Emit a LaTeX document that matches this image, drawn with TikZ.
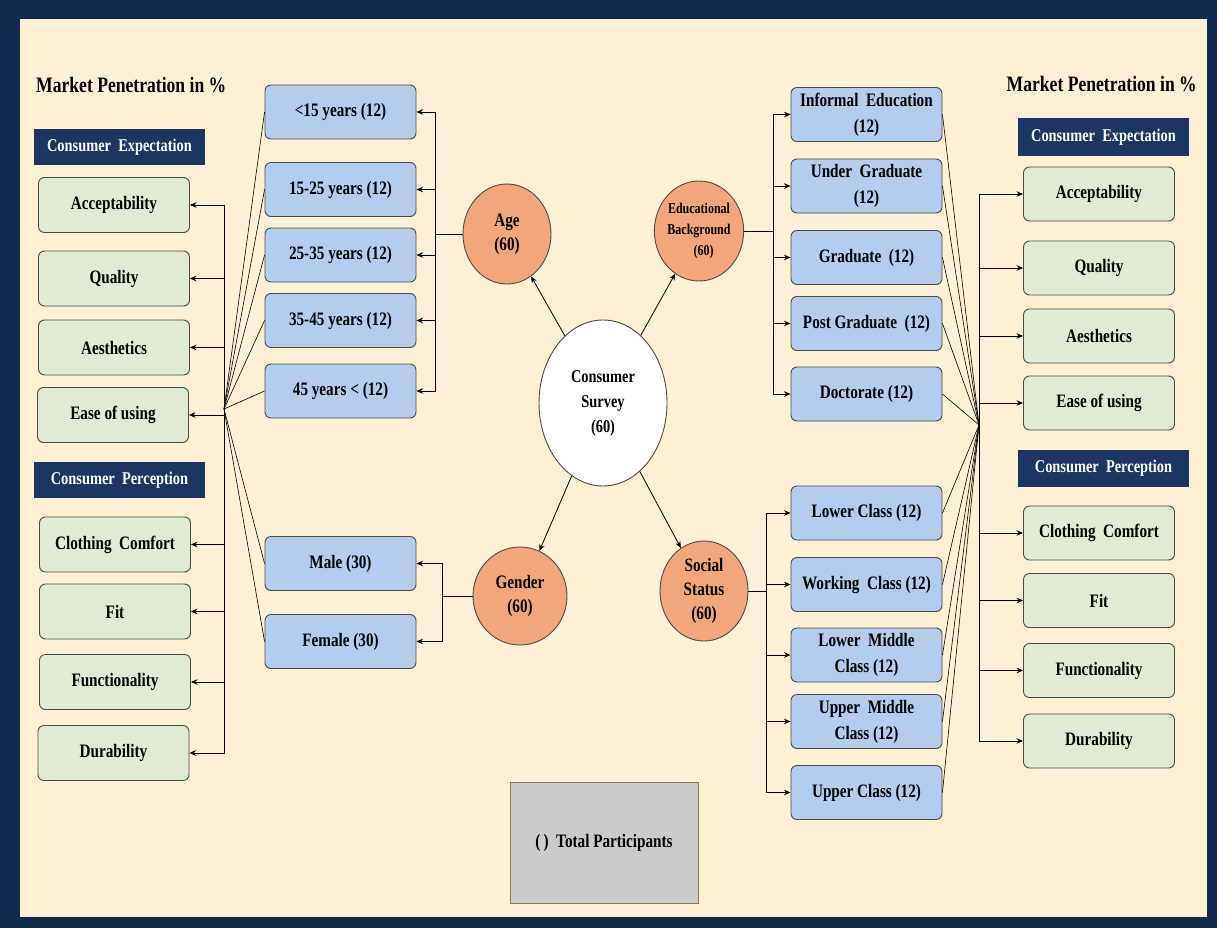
\documentclass[tikz,border=0pt]{standalone}
\usepackage{fontspec}
\setmainfont{Liberation Serif}[FakeStretch=0.8]
\usetikzlibrary{arrows.meta,shapes.geometric}
\definecolor{frameblue}{HTML}{0F2A4D}
\definecolor{headblue}{HTML}{1C3563}
\definecolor{cream}{HTML}{FEF0D4}
\definecolor{boxblue}{HTML}{B5CDEC}
\definecolor{boxgreen}{HTML}{E1EAD5}
\definecolor{circorange}{HTML}{F4A67B}
\definecolor{edge}{HTML}{4A4A4A}
\definecolor{greybox}{HTML}{CBCBCB}
\definecolor{olive}{HTML}{8A7A50}
\tikzset{
  base/.style={font=\fontsize{19}{26}\selectfont\bfseries, align=center, inner sep=1pt},
  bluebox/.style={base, rectangle, rounded corners=6pt, draw=edge, line width=0.9pt, fill=boxblue, minimum width=151pt, minimum height=54pt},
  greenbox/.style={base, rectangle, rounded corners=6pt, draw=edge, line width=0.9pt, fill=boxgreen, minimum width=151pt, minimum height=55pt},
  header/.style={base, font=\fontsize{18}{20}\selectfont\bfseries, rectangle, fill=headblue, text=white, minimum width=171pt, minimum height=36pt},
  circ/.style={base, ellipse, draw=edge, line width=0.9pt, fill=circorange, inner sep=0pt},
  title/.style={font=\fontsize{22}{24}\selectfont\bfseries, inner sep=0pt},
  arr/.style={-{Stealth[length=6.5pt,width=5.5pt]}, line width=0.8pt, black},
  fan/.style={line width=0.6pt, black},
  bus/.style={line width=0.8pt, black}
}
\begin{document}
\begin{tikzpicture}[x=1pt,y=-1pt]
\useasboundingbox (0,0) rectangle (1217,928);
\fill[frameblue] (0,0) rectangle (1217,928);
\fill[cream] (20,19) rectangle (1207,917);

% titles
\node[title, anchor=west] (mpl) at (36,85) {Market Penetration in \%};
\node[title, anchor=east] (mpr) at (1197,84) {Market Penetration in \%};

% left headers and green boxes
\node[header] (hle) at (119.5,147.5) {Consumer\ \ Expectation};
\node[header] (hlp) at (119.5,480) {Consumer\ \ Perception};
\node[greenbox] (lg1) at (114,205) {Acceptability};
\node[greenbox] (lg2) at (114,278.5) {Quality};
\node[greenbox] (lg3) at (114,347.5) {Aesthetics};
\node[greenbox] (lg4) at (113,415) {Ease of using};
\node[greenbox] (lg5) at (115,544.5) {Clothing\ \ Comfort};
\node[greenbox] (lg6) at (115,611.5) {Fit};
\node[greenbox] (lg7) at (115,682) {Functionality};
\node[greenbox] (lg8) at (113.5,753) {Durability};

% right headers and green boxes
\node[header, minimum height=38pt] (hre) at (1103.5,137) {Consumer\ \ Expectation};
\node[header, minimum height=37pt] (hrp) at (1103.5,468.5) {Consumer\ \ Perception};
\node[greenbox, minimum height=54pt] (rg1) at (1099,194) {Acceptability};
\node[greenbox, minimum height=54pt] (rg2) at (1099,268) {Quality};
\node[greenbox, minimum height=54pt] (rg3) at (1099,336) {Aesthetics};
\node[greenbox, minimum height=54pt] (rg4) at (1099,403) {Ease of using};
\node[greenbox, minimum height=54pt] (rg5) at (1099,533) {Clothing\ \ Comfort};
\node[greenbox, minimum height=54pt] (rg6) at (1099,600.5) {Fit};
\node[greenbox, minimum height=54pt] (rg7) at (1099,670.5) {Functionality};
\node[greenbox, minimum height=54pt] (rg8) at (1099,741) {Durability};

% age boxes
\node[bluebox] (a1) at (340.5,112) {<15 years (12)};
\node[bluebox] (a2) at (340.5,189.5) {15-25 years (12)};
\node[bluebox] (a3) at (340.5,255) {25-35 years (12)};
\node[bluebox] (a4) at (340.5,320.5) {35-45 years (12)};
\node[bluebox] (a5) at (340.5,391) {45 years < (12)};
% gender boxes
\node[bluebox] (m1) at (340.5,563.5) {Male (30)};
\node[bluebox] (m2) at (340.5,641.5) {Female (30)};

% education boxes
\node[bluebox] (e1) at (866.5,114.5) {Informal\ \ Education\\(12)};
\node[bluebox] (e2) at (866.5,186) {Under\ \ Graduate\\(12)};
\node[bluebox] (e3) at (866.5,257.5) {Graduate\ \ (12)};
\node[bluebox] (e4) at (866.5,323.5) {Post Graduate\ \ (12)};
\node[bluebox] (e5) at (866.5,394) {Doctorate (12)};
% social boxes
\node[bluebox] (s1) at (866.5,513) {Lower Class (12)};
\node[bluebox] (s2) at (866.5,584.5) {Working\ \ Class (12)};
\node[bluebox] (s3) at (866.5,655) {Lower\ \ Middle\\Class (12)};
\node[bluebox] (s4) at (866.5,721.5) {Upper\ \ Middle\\Class (12)};
\node[bluebox] (s5) at (866.5,792.5) {Upper Class (12)};

% circles
\node[circ, minimum width=128pt, minimum height=166pt, fill=white, font=\fontsize{18}{25}\selectfont\bfseries] (cs) at (603,403) {Consumer\\Survey\\(60)};
\node[circ, minimum width=88pt, minimum height=100pt, font=\fontsize{19}{24}\selectfont\bfseries] (age) at (507,234) {Age\\(60)};
\node[circ, minimum width=88pt, minimum height=100pt, font=\fontsize{15}{21}\selectfont\bfseries] (edu) at (699,231) {Educational\\Background\\\ \ \ (60)};
\node[circ, minimum width=94pt, minimum height=98pt, font=\fontsize{19}{24}\selectfont\bfseries] (gen) at (520,596) {Gender\\(60)};
\node[circ, minimum width=88pt, minimum height=100pt, font=\fontsize{19}{24}\selectfont\bfseries] (soc) at (704,591) {Social\\Status\\(60)};

% legend box
\node[base, rectangle, draw=olive, line width=1pt, fill=greybox, minimum width=188pt, minimum height=121pt] (tot) at (604,842.5) {(\,)\ \ Total Participants};

% survey arrows
\draw[arr] (cs) -- (age);
\draw[arr] (cs) -- (edu);
\draw[arr] (cs) -- (gen);
\draw[arr] (cs) -- (soc);

% buses
\coordinate (agebus) at (435,234);
\coordinate (edubus) at (773,231);
\coordinate (genbus) at (442,596);
\coordinate (socbus) at (766,591);
\coordinate (lhub) at (224,409);
\coordinate (rhub) at (979,425);

\draw[bus] (age.west) -- (agebus);
\foreach \n in {a1,a2,a3,a4,a5} \draw[arr] (agebus) |- (\n.east);
\draw[bus] (edu.east) -- (edubus);
\foreach \n in {e1,e2,e3,e4,e5} \draw[arr] (edubus) |- (\n.west);
\draw[bus] (gen.west) -- (genbus);
\foreach \n in {m1,m2} \draw[arr] (genbus) |- (\n.east);
\draw[bus] (soc.east) -- (socbus);
\foreach \n in {s1,s2,s3,s4,s5} \draw[arr] (socbus) |- (\n.west);

% left hub
\foreach \n in {lg1,lg2,lg3,lg4,lg5,lg6,lg7,lg8} \draw[arr] (lhub) |- (\n.east);
\foreach \n in {a1,a2,a3,a4,a5,m1,m2} \draw[fan] (lhub) -- (\n.west);
% right hub
\foreach \n in {rg1,rg2,rg3,rg4,rg5,rg6,rg7,rg8} \draw[arr] (rhub) |- (\n.west);
\foreach \n in {e1,e2,e3,e4,e5,s1,s2,s3,s4,s5} \draw[fan] (rhub) -- (\n.east);
\end{tikzpicture}
\end{document}
